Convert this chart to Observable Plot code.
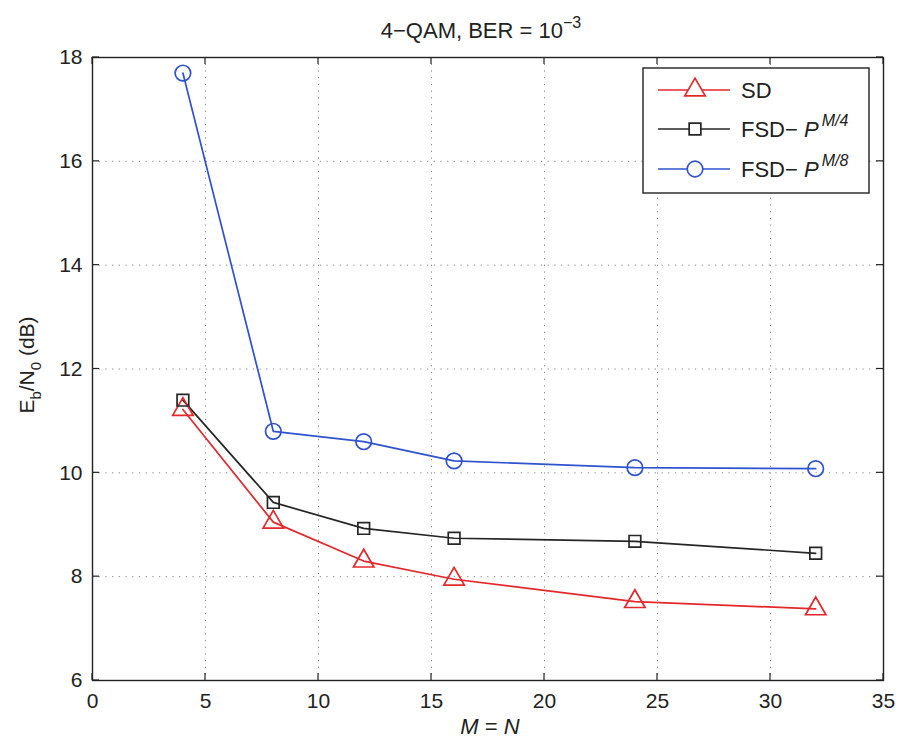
<!DOCTYPE html>
<html>
<head>
<meta charset="utf-8">
<script src="https://cdn.jsdelivr.net/npm/d3@7"></script>
<script src="https://cdn.jsdelivr.net/npm/@observablehq/plot@0.6"></script>
<style>
  body { margin: 0; background: #fff; }
  #chart svg { display: block; }
</style>
</head>
<body>
<div id="chart"></div>
<script>
// ---- data ----
const M = [4, 8, 12, 16, 24, 32];
const sd   = [11.22, 9.05, 8.30, 7.95, 7.52, 7.38];
const fsd4 = [11.40, 9.43, 8.93, 8.74, 8.68, 8.45];
const fsd8 = [17.70, 10.80, 10.60, 10.23, 10.10, 10.08];
const xTicks = [0, 5, 10, 15, 20, 25, 30, 35];
const yTicks = [6, 8, 10, 12, 14, 16, 18];
const seriesNames = ["SD", "FSD- P^M/4", "FSD- P^M/8"];
const seriesColors = ["#e3282c", "#262626", "#2f52cf"];
const seriesSymbols = ["triangle", "square", "circle"];
const seriesR = [7.6, 6.6, 7.8];

const rows = [];
[sd, fsd4, fsd8].forEach((vals, s) => M.forEach((m, i) => rows.push({series: s, m, v: vals[i]})));

const font = "'Liberation Sans', Arial, Helvetica, sans-serif";

const plot = Plot.plot({
  width: 899, height: 740,
  marginLeft: 92, marginRight: 16, marginTop: 57, marginBottom: 60,
  style: {fontFamily: font, background: "#fff", color: "#222"},
  x: {domain: [0, 35], ticks: xTicks},
  y: {domain: [6, 18], ticks: yTicks},
  marks: [
    Plot.gridX(xTicks.slice(1, -1), {stroke: "#666", strokeOpacity: 0.8, strokeDasharray: "1.2,5.5", strokeWidth: 1}),
    Plot.gridY(yTicks.slice(1, -1), {stroke: "#666", strokeOpacity: 0.8, strokeDasharray: "1.2,5.5", strokeWidth: 1}),
    Plot.axisX(xTicks, {tickSize: 0, tickPadding: 13, fontSize: 21, label: null, tickFormat: d3.format("d")}),
    Plot.axisY(yTicks, {tickSize: 0, tickPadding: 10, fontSize: 21, label: null, tickFormat: d3.format("d")}),
    ...[0, 1, 2].map(s => Plot.line(rows.filter(d => d.series === s), {x: "m", y: "v", stroke: seriesColors[s], strokeWidth: 1.7})),
    ...[0, 1, 2].map(s => Plot.dot(rows.filter(d => d.series === s), {x: "m", y: "v", stroke: seriesColors[s], symbol: seriesSymbols[s], r: seriesR[s], fill: "none", strokeWidth: 1.7})),
    Plot.frame({stroke: "#222", strokeWidth: 1.4})
  ]
});
document.getElementById("chart").append(plot);

// ---- decorations (inward ticks, titles, legend) ----
const svg = d3.select(plot);
const xs = plot.scale("x"), ys = plot.scale("y");
const L = 92, R = 899 - 16, T = 57, B = 740 - 60;
const tk = 7;
const tg = svg.append("g").attr("stroke", "#222").attr("stroke-width", 1.2);
xTicks.forEach(t => {
  const x = xs.apply(t);
  tg.append("line").attr("x1", x).attr("x2", x).attr("y1", B).attr("y2", B - tk);
  tg.append("line").attr("x1", x).attr("x2", x).attr("y1", T).attr("y2", T + tk);
});
yTicks.forEach(t => {
  const y = ys.apply(t);
  tg.append("line").attr("y1", y).attr("y2", y).attr("x1", L).attr("x2", L + tk);
  tg.append("line").attr("y1", y).attr("y2", y).attr("x1", R).attr("x2", R - tk);
});

// title
const title = svg.append("text").attr("x", 481).attr("y", 38)
  .attr("text-anchor", "middle").attr("font-size", 22).attr("fill", "#222").attr("font-family", font);
title.append("tspan").text("4\u2212QAM, BER = 10");
title.append("tspan").attr("dy", -10).attr("font-size", 16).text("\u22123");

// x label
const xl = svg.append("text").attr("x", 490).attr("y", 734)
  .attr("text-anchor", "middle").attr("font-size", 22).attr("fill", "#222").attr("font-family", font);
xl.append("tspan").attr("font-style", "italic").text("M");
xl.append("tspan").text(" = ");
xl.append("tspan").attr("font-style", "italic").text("N");

// y label
const yl = svg.append("text").attr("transform", `translate(34,365) rotate(-90)`)
  .attr("text-anchor", "middle").attr("font-size", 21).attr("fill", "#222").attr("font-family", font);
yl.append("tspan").text("E");
yl.append("tspan").attr("dy", 7).attr("font-size", 15).text("b");
yl.append("tspan").attr("dy", -7).text("/N");
yl.append("tspan").attr("dy", 7).attr("font-size", 15).text("0");
yl.append("tspan").attr("dy", -7).text(" (dB)");

// legend
const lg = svg.append("g");
lg.append("rect").attr("x", 643).attr("y", 68).attr("width", 226).attr("height", 125)
  .attr("fill", "#fff").attr("stroke", "#222").attr("stroke-width", 1.4);
const ly = [90, 129, 169];
const d3sym = [d3.symbolTriangle, d3.symbolSquare, d3.symbolCircle];
seriesNames.forEach((name, s) => {
  const y = ly[s];
  lg.append("line").attr("x1", 658).attr("x2", 730).attr("y1", y).attr("y2", y)
    .attr("stroke", seriesColors[s]).attr("stroke-width", 1.7);
  const size = Math.PI * seriesR[s] * seriesR[s];
  lg.append("path").attr("transform", `translate(695,${y})`)
    .attr("d", d3.symbol(d3sym[s], size)())
    .attr("fill", "#fff").attr("stroke", seriesColors[s]).attr("stroke-width", 1.7);
  const t = lg.append("text").attr("x", 741).attr("y", y + 8).attr("font-size", 22)
    .attr("text-anchor", "start").attr("fill", "#222").attr("font-family", font);
  if (s === 0) {
    t.text("SD");
  } else {
    t.append("tspan").text("FSD\u2212 ");
    t.append("tspan").attr("font-style", "italic").text("P");
    t.append("tspan").attr("dx", 3).attr("dy", -11).attr("font-size", 16).attr("font-style", "italic")
      .text(s === 1 ? "M/4" : "M/8");
  }
});
</script>
</body>
</html>
